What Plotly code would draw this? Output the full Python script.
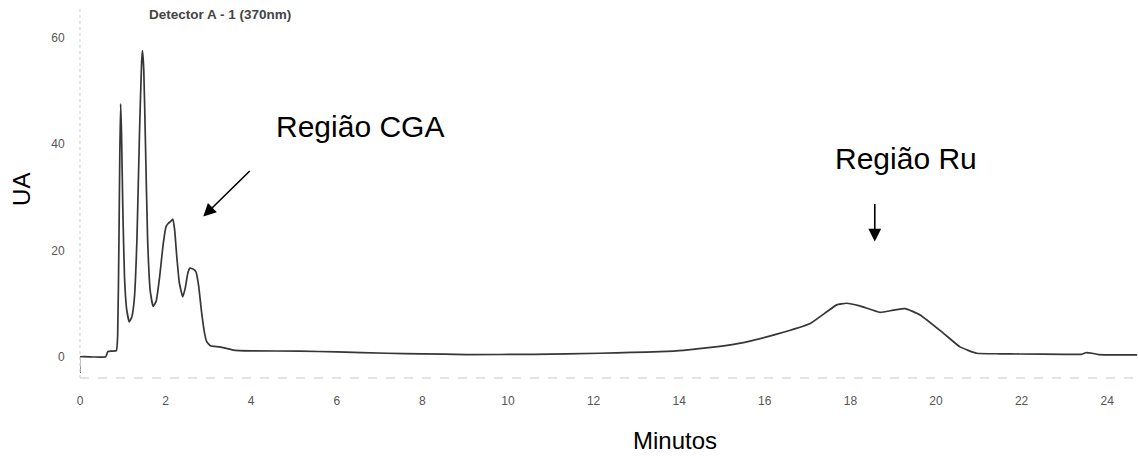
import plotly.graph_objects as go

# Chromatogram trace (time in minutes, absorbance UA)
time_min = [0.0, 0.0, 0.3, 0.6, 0.65, 0.75, 0.85, 0.88, 0.91, 0.93, 0.95, 0.97, 1.0, 1.04, 1.09, 1.15,
            1.21, 1.27, 1.33, 1.39, 1.44, 1.46, 1.49, 1.53, 1.58, 1.64, 1.71, 1.78, 1.86, 1.94, 2.01,
            2.06, 2.12, 2.17, 2.21, 2.26, 2.32, 2.40, 2.46, 2.52, 2.57, 2.65, 2.71, 2.77, 2.84, 2.91,
            2.96, 3.05, 3.27, 3.58, 4.0, 5.14, 6.0, 7.17, 8.0, 9.03, 10.6, 12.15, 12.9, 13.55, 14.1,
            14.95, 15.5, 16.28, 17.06, 17.45, 17.68, 17.91, 18.22, 18.69, 19.0, 19.28, 19.63, 20.17,
            20.56, 20.95, 21.5, 21.96, 23.0, 23.4, 23.5, 23.65, 23.8, 24.7]
absorbance = [-3.0, 0.0, 0.0, 0.05, 1.0, 1.1, 1.2, 4.0, 22.0, 38.0, 47.6, 42.0, 28.0, 15.0, 9.0, 6.6,
              7.5, 11.0, 22.0, 42.0, 55.5, 57.6, 54.0, 40.0, 22.0, 12.5, 9.5, 10.5, 15.0, 21.0, 24.5,
              25.1, 25.5, 25.9, 24.0, 19.0, 14.0, 11.3, 13.0, 15.8, 16.7, 16.5, 16.0, 13.5, 8.5, 4.5,
              2.9, 2.1, 1.9, 1.3, 1.15, 1.1, 0.95, 0.7, 0.6, 0.45, 0.5, 0.7, 0.85, 1.0, 1.25,
              2.0, 2.7, 4.3, 6.3, 8.5, 9.8, 10.1, 9.6, 8.4, 8.8, 9.1, 7.9, 4.5,
              1.9, 0.7, 0.6, 0.56, 0.5, 0.5, 0.8, 0.7, 0.45, 0.4]

x_ticks = [0, 2, 4, 6, 8, 10, 12, 14, 16, 18, 20, 22, 24]
y_ticks = [0, 20, 40, 60]

title_text = "Detector A - 1 (370nm)"
label_cga = "Região CGA"
label_ru = "Região Ru"
x_title = "Minutos"
y_title = "UA"

fig = go.Figure()
fig.add_trace(go.Scatter(x=time_min, y=absorbance, mode="lines",
                         line=dict(color="#363636", width=1.7, shape="spline", smoothing=0.4),
                         hoverinfo="skip", showlegend=False))

tick_font = dict(family="Liberation Sans, Arial, sans-serif", size=12, color="#555555")

fig.update_layout(
    width=1138, height=456,
    margin=dict(l=80, r=0, t=8, b=78),
    paper_bgcolor="white", plot_bgcolor="white",
    font=dict(family="Liberation Sans, Arial, sans-serif", color="black"),
    xaxis=dict(range=[0, 24.72], tickvals=x_ticks, ticktext=[str(v) for v in x_ticks],
               showgrid=False, zeroline=False, showline=False,
               ticks="outside", ticklen=12, tickcolor="rgba(0,0,0,0)", tickfont=tick_font),
    yaxis=dict(range=[-3.95, 65.6], tickvals=y_ticks, ticktext=[str(v) for v in y_ticks],
               showgrid=False, zeroline=False, showline=False,
               ticks="outside", ticklen=12, tickcolor="rgba(0,0,0,0)", tickfont=tick_font),
)

# faint axis lines as in the scanned chart
fig.add_shape(type="line", xref="paper", yref="paper", x0=0, x1=1, y0=0, y1=0,
              line=dict(color="#c8c8c8", width=1.2, dash="dash"))
fig.add_shape(type="line", xref="paper", yref="paper", x0=0, x1=0, y0=0, y1=1,
              line=dict(color="#d5d5d5", width=1.2, dash="dot"))

fig.add_annotation(x=3.26, y=64.3, text="<b>" + title_text + "</b>", showarrow=False,
                   font=dict(size=13.5, color="#444444", family="Liberation Sans, Arial, sans-serif"),
                   xanchor="center", yanchor="middle")
fig.add_annotation(x=6.54, y=43.3, text=label_cga, showarrow=False,
                   font=dict(size=30, color="black"), xanchor="center", yanchor="middle")
fig.add_annotation(x=19.3, y=37.4, text=label_ru, showarrow=False,
                   font=dict(size=30, color="black"), xanchor="center", yanchor="middle")

# arrows
fig.add_annotation(x=2.88, y=26.4, ax=48, ay=-47, text="", showarrow=True,
                   arrowhead=2, arrowsize=1.6, arrowwidth=1.6, arrowcolor="black", standoff=0)
fig.add_annotation(x=18.57, y=21.7, ax=0, ay=-39, text="", showarrow=True,
                   arrowhead=2, arrowsize=1.6, arrowwidth=1.6, arrowcolor="black", standoff=0)

# axis titles
fig.add_annotation(x=13.9, y=0, yref="paper", text=x_title, showarrow=False,
                   font=dict(size=24, color="black"), xanchor="center", yanchor="middle", yshift=-62)
fig.add_annotation(x=0, xref="paper", y=31.4, text=y_title, showarrow=False, textangle=-90,
                   font=dict(size=24, color="black"), xanchor="center", yanchor="middle", xshift=-58)

fig.write_html("out.html")
